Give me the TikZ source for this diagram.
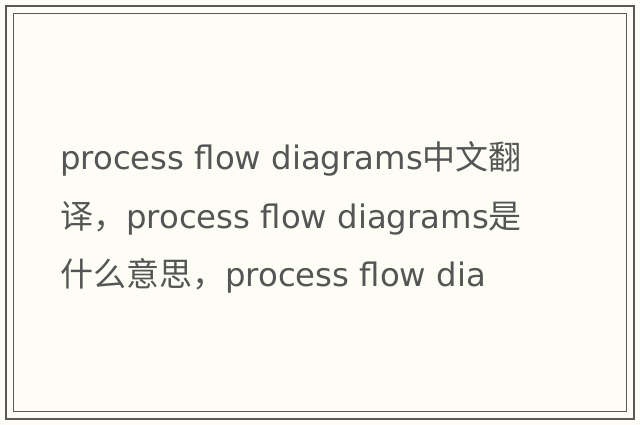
\documentclass[tikz,border=0pt]{standalone}
\usepackage{fontspec}
\setmainfont{DejaVu Sans}[Scale=0.98]
\newfontfamily\cjk{Noto Sans CJK SC}
\definecolor{bg}{HTML}{FEFDF5}
\definecolor{frame}{HTML}{5A5A52}
\definecolor{txt}{HTML}{555555}
\begin{document}
\begin{tikzpicture}[x=1pt,y=-1pt,
  line/.style={anchor=base west,text=txt,inner sep=0pt,font=\fontsize{33}{40}\selectfont}]
\useasboundingbox (0,0) rectangle (640,425);
\fill[bg] (0,0) rectangle (640,425);
\draw[frame,line width=2.2pt] (6,6) rectangle (634,419);
\draw[frame,line width=1pt] (13.5,13.5) rectangle (626.5,411.5);
\node[line] (l1) at (60,170) {process flow diagrams{\cjk 中文翻}};
\node[line] (l2) at (60,228) {{\cjk 译，}process flow diagrams{\cjk 是}};
\node[line] (l3) at (60,286) {{\cjk 什么意思，}process flow dia};
\end{tikzpicture}
\end{document}
